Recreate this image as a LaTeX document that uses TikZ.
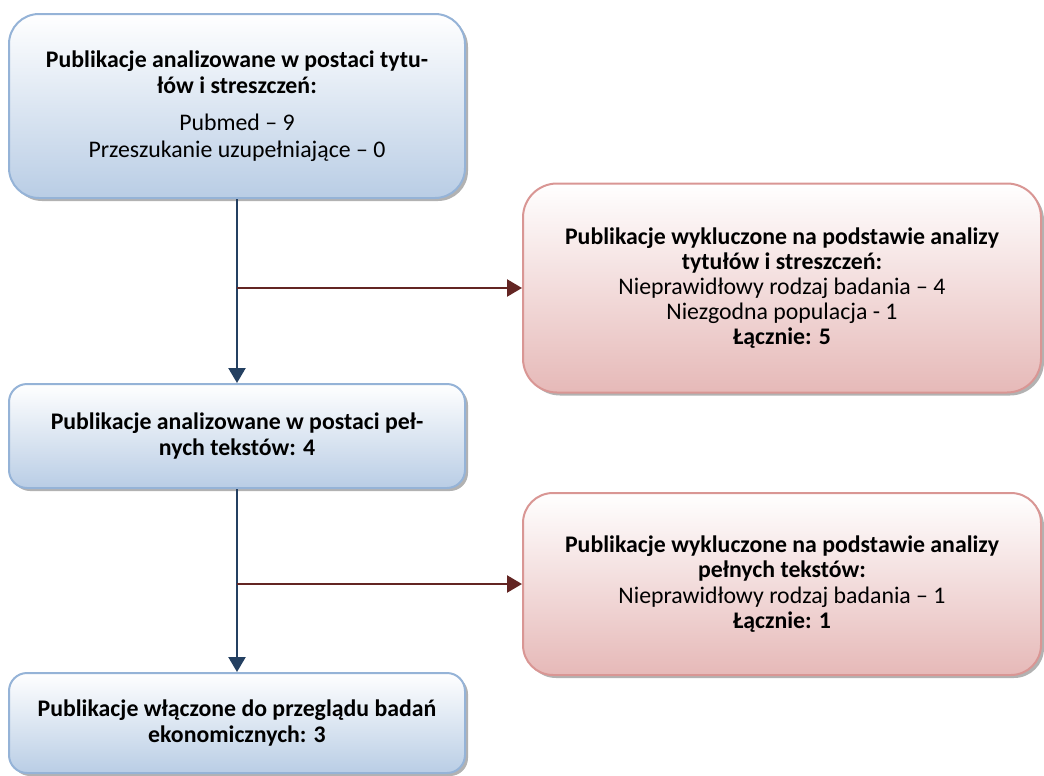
\documentclass[tikz,border=0pt]{standalone}
\usepackage{fontspec}
\setmainfont{Carlito}
\usetikzlibrary{positioning,arrows.meta,shadows}

\definecolor{blueline}{RGB}{149,179,215}
\definecolor{bluefill}{RGB}{185,205,229}
\definecolor{redline}{RGB}{217,150,148}
\definecolor{redfill}{RGB}{230,185,184}
\definecolor{bluearrow}{RGB}{36,64,97}
\definecolor{redarrow}{RGB}{99,37,35}

\begin{document}
\begin{tikzpicture}[x=0.5pt,y=-0.5pt,
		box/.style={line width=1pt,align=center,inner sep=0pt,
			font=\fontsize{11.9}{13.4}\selectfont,
			drop shadow={shadow xshift=1.5pt,shadow yshift=-1.5pt,fill=black!55,opacity=0.55}},
		incbox/.style={box,draw=blueline,top color=white,bottom color=bluefill},
		excbox/.style={box,draw=redline,top color=white,bottom color=redfill,
			font=\fontsize{11.9}{12.6}\selectfont},
		down/.style={line width=1.2pt,draw=bluearrow,-{Triangle[length=7.5pt,width=8.5pt]}},
		side/.style={line width=1.2pt,draw=redarrow,-{Triangle[length=7.5pt,width=8.5pt]}}]
		\useasboundingbox (0,0) rectangle (1044,776);
		% included (left column)
		\node[incbox,minimum width=228pt,minimum height=92pt,rounded corners=15pt] (titles) at (237,106)
			{\textbf{Publikacje analizowane w postaci tytu-}\\\textbf{łów i streszczeń:}\\[5pt]
			 Pubmed – 9\\Przeszukanie uzupełniające – 0};
		\node[incbox,minimum width=228pt,minimum height=52pt,rounded corners=9pt] (fulltext) at (237,436)
			{\textbf{Publikacje analizowane w postaci peł-}\\\textbf{nych tekstów: 4}};
		\node[incbox,minimum width=228pt,minimum height=50pt,rounded corners=9pt] (included) at (237,723)
			{\textbf{Publikacje włączone do przeglądu badań}\\\textbf{ekonomicznych: 3}};
		% excluded (right column)
		\node[excbox,minimum width=259pt,minimum height=104.5pt,rounded corners=17pt] (exctitles) at (782,288)
			{\textbf{Publikacje wykluczone na podstawie analizy}\\\textbf{tytułów i streszczeń:}\\
			 Nieprawidłowy rodzaj badania – 4\\Niezgodna populacja - 1\\\textbf{Łącznie: 5}};
		\node[excbox,minimum width=259pt,minimum height=91pt,rounded corners=15pt] (excfull) at (782,584)
			{\textbf{Publikacje wykluczone na podstawie analizy}\\\textbf{pełnych tekstów:}\\
			 Nieprawidłowy rodzaj badania – 1\\\textbf{Łącznie: 1}};
		% connectors
		\draw[down] (titles) -- (fulltext);
		\draw[down] (fulltext) -- (included);
		\draw[side] (titles.south |- exctitles.west) -- (exctitles.west);
		\draw[side] (fulltext.south |- excfull.west) -- (excfull.west);
\end{tikzpicture}
\end{document}
